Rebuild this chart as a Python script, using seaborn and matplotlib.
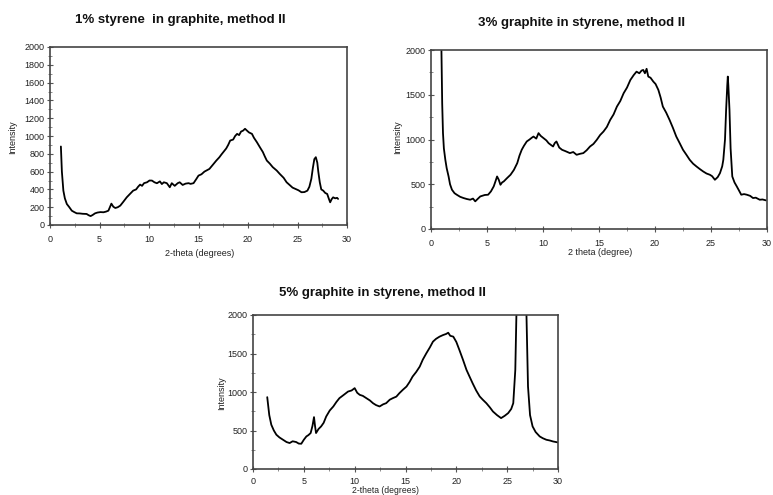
import matplotlib
matplotlib.use("Agg")
import matplotlib.pyplot as plt
import seaborn as sns
import pandas as pd
from matplotlib.ticker import MultipleLocator

# ---- data: (2-theta, intensity) ----
pts1 = [(1.1, 882), (1.2, 600), (1.35, 386), (1.5, 300), (1.7, 236), (1.95, 200), (2.2, 161),
        (2.45, 145), (2.7, 131), (3.0, 130), (3.3, 126), (3.7, 124), (3.9, 110), (4.1, 100),
        (4.3, 112), (4.55, 131), (4.8, 140), (5.1, 145), (5.4, 143), (5.65, 150), (5.9, 161),
        (6.05, 200), (6.2, 240), (6.4, 205), (6.6, 191), (6.85, 200), (7.1, 218), (7.4, 260),
        (7.75, 311), (8.0, 340), (8.4, 386), (8.7, 400), (8.9, 430), (9.1, 454), (9.3, 440),
        (9.5, 470), (9.8, 480), (10.05, 500), (10.3, 499), (10.55, 480), (10.8, 469), (11.1, 490),
        (11.3, 460), (11.5, 480), (11.8, 470), (12.1, 424), (12.3, 470), (12.6, 440), (12.9, 470),
        (13.1, 480), (13.4, 450), (13.7, 465), (14.0, 470), (14.2, 462), (14.5, 470), (14.8, 520),
        (15.0, 555), (15.3, 570), (15.6, 600), (15.8, 612), (16.1, 630), (16.4, 670), (16.8, 724),
        (17.1, 760), (17.3, 790), (17.5, 818), (17.8, 860), (18.0, 900), (18.2, 949), (18.5, 960),
        (18.7, 1000), (18.9, 1024), (19.1, 1010), (19.3, 1050), (19.5, 1060), (19.7, 1081),
        (19.9, 1060), (20.1, 1040), (20.4, 1024), (20.6, 980), (20.9, 930), (21.2, 874),
        (21.5, 820), (21.7, 770), (21.9, 724), (22.2, 690), (22.5, 650), (22.9, 612), (23.2, 575),
        (23.6, 530), (23.9, 480), (24.2, 450), (24.5, 420), (24.8, 405), (25.1, 390), (25.4, 368),
        (25.7, 370), (26.0, 386), (26.2, 430), (26.4, 520), (26.55, 640), (26.7, 740),
        (26.85, 762), (27.0, 700), (27.1, 600), (27.25, 480), (27.4, 400), (27.6, 386),
        (27.8, 360), (28.0, 349), (28.15, 300), (28.3, 255), (28.45, 290), (28.6, 311),
        (28.8, 300), (29.0, 305), (29.1, 293)]

pts2 = [(0.92, 2100), (1.0, 1400), (1.07, 1071), (1.15, 900), (1.28, 773), (1.4, 680),
        (1.57, 587), (1.7, 500), (1.87, 439), (2.1, 400), (2.3, 383), (2.6, 360), (2.9, 346),
        (3.2, 335), (3.5, 327), (3.75, 340), (3.95, 309), (4.2, 340), (4.4, 364), (4.8, 380),
        (5.1, 383), (5.35, 420), (5.6, 476), (5.75, 530), (5.9, 587), (6.05, 550), (6.2, 494),
        (6.35, 520), (6.5, 532), (6.8, 570), (7.1, 606), (7.4, 660), (7.7, 736), (7.9, 820),
        (8.1, 885), (8.3, 930), (8.55, 978), (8.8, 1000), (9.0, 1020), (9.15, 1033), (9.4, 1010),
        (9.6, 1071), (9.8, 1040), (10.05, 1015), (10.3, 990), (10.5, 959), (10.7, 940),
        (10.9, 922), (11.05, 960), (11.2, 978), (11.45, 910), (11.7, 885), (12.0, 870),
        (12.4, 848), (12.7, 860), (13.0, 829), (13.3, 840), (13.6, 848), (13.9, 880), (14.2, 922),
        (14.5, 950), (14.8, 996), (15.1, 1050), (15.4, 1089), (15.7, 1140), (16.0, 1219),
        (16.3, 1280), (16.6, 1368), (16.9, 1430), (17.2, 1517), (17.5, 1580), (17.8, 1665),
        (18.1, 1720), (18.35, 1758), (18.6, 1740), (18.8, 1770), (18.95, 1777), (19.1, 1740),
        (19.25, 1790), (19.4, 1703), (19.6, 1690), (19.85, 1647), (20.05, 1620), (20.3, 1554),
        (20.5, 1470), (20.7, 1368), (21.0, 1300), (21.3, 1219), (21.6, 1130), (21.9, 1033),
        (22.2, 960), (22.5, 885), (22.8, 830), (23.1, 773), (23.4, 730), (23.7, 699), (24.0, 670),
        (24.3, 643), (24.6, 620), (24.9, 606), (25.1, 590), (25.35, 550), (25.6, 580),
        (25.8, 624), (26.0, 700), (26.1, 773), (26.25, 1000), (26.35, 1331), (26.45, 1600),
        (26.5, 1703), (26.55, 1600), (26.65, 1331), (26.75, 900), (26.9, 587), (27.1, 520),
        (27.3, 476), (27.5, 430), (27.7, 383), (27.95, 390), (28.2, 383), (28.5, 370),
        (28.75, 346), (29.0, 350), (29.35, 327), (29.6, 330), (29.9, 320)]

pts3 = [(1.4, 933), (1.6, 700), (1.8, 575), (2.05, 500), (2.3, 445), (2.6, 410), (2.95, 380),
        (3.3, 350), (3.6, 337), (3.9, 360), (4.25, 350), (4.5, 330), (4.75, 328), (5.0, 380),
        (5.25, 423), (5.45, 440), (5.67, 467), (5.85, 560), (6.0, 674), (6.1, 560), (6.2, 467),
        (6.45, 520), (6.7, 553), (6.95, 600), (7.2, 682), (7.55, 760), (7.9, 812), (8.2, 870),
        (8.5, 920), (8.9, 960), (9.35, 1006), (9.7, 1020), (10.0, 1050), (10.25, 990),
        (10.5, 963), (10.8, 950), (11.15, 920), (11.5, 890), (11.8, 855), (12.1, 830),
        (12.45, 812), (12.8, 840), (13.1, 855), (13.45, 900), (13.75, 920), (14.1, 940),
        (14.4, 985), (14.75, 1030), (15.1, 1071), (15.4, 1130), (15.7, 1201), (16.05, 1260),
        (16.4, 1330), (16.7, 1420), (17.05, 1503), (17.4, 1580), (17.7, 1654), (18.0, 1690),
        (18.35, 1719), (18.7, 1740), (19.0, 1754), (19.2, 1770), (19.4, 1730), (19.7, 1719),
        (20.0, 1650), (20.3, 1546), (20.65, 1420), (21.0, 1287), (21.3, 1200), (21.6, 1114),
        (21.95, 1020), (22.3, 942), (22.6, 900), (22.95, 855), (23.3, 800), (23.6, 747),
        (24.0, 700), (24.4, 661), (24.75, 690), (25.1, 726), (25.4, 780), (25.6, 855),
        (25.8, 1287), (26.0, 2600), (26.3, 2600), (26.6, 2600), (26.8, 2600), (27.05, 1071),
        (27.25, 700), (27.5, 553), (27.8, 480), (28.2, 423), (28.5, 400), (28.85, 380),
        (29.2, 370), (29.5, 358), (30.0, 345)]

x1, y1 = zip(*pts1)
x2, y2 = zip(*pts2)
x3, y3 = zip(*pts3)

titles = ["1% styrene  in graphite, method II",
          "3% graphite in styrene, method II",
          "5% graphite in styrene, method II"]
xlabels = ["2-theta (degrees)", "2 theta (degree)", "2-theta (degrees)"]
ylabel = "Intensity"

sns.set_theme(style="white")
plt.rcParams["font.family"] = ["Liberation Sans", "DejaVu Sans"]

fig = plt.figure(figsize=(7.73, 4.95), dpi=100)
W, H = 773.0, 495.0

def axrect(l, t, r, b):
    return [l / W, 1 - b / H, (r - l) / W, (b - t) / H]

ax1 = fig.add_axes(axrect(50, 47, 347, 225))
ax2 = fig.add_axes(axrect(431, 50, 767, 229))
ax3 = fig.add_axes(axrect(253, 315, 558, 469))

datasets = [(ax1, x1, y1), (ax2, x2, y2), (ax3, x3, y3)]
for ax, xs, ys in datasets:
    df = pd.DataFrame({"x": list(xs), "y": list(ys)})
    sns.lineplot(data=df, x="x", y="y", ax=ax, color="black", linewidth=1.3,
                 estimator=None, sort=False)
    ax.set_xlim(0, 30)
    ax.set_ylim(0, 2000)
    ax.set_xlabel("")
    ax.set_ylabel("")
    ax.xaxis.set_major_locator(MultipleLocator(5))
    ax.xaxis.set_minor_locator(MultipleLocator(2.5))
    for s in ax.spines.values():
        s.set_color("#444444")
        s.set_linewidth(1.2)
    ax.tick_params(axis="both", which="major", direction="inout", length=4, width=0.8,
                   color="#555555", labelsize=6.5, labelcolor="#222222", pad=2)
    ax.tick_params(axis="both", which="minor", direction="inout", length=3, width=0.6,
                   color="#777777")
    ax.tick_params(axis="x", which="major", pad=5)
    ax.tick_params(left=True, bottom=True, which="both")
    ax.grid(False)

ax3.tick_params(axis="x", which="major", pad=4)

ax1.yaxis.set_major_locator(MultipleLocator(200))
ax1.yaxis.set_minor_locator(MultipleLocator(100))
for ax in (ax2, ax3):
    ax.yaxis.set_major_locator(MultipleLocator(500))
    ax.yaxis.set_minor_locator(MultipleLocator(250))

# titles
fig.text(180 / W, 1 - 20 / H, titles[0], ha="center", va="center", fontsize=9.5,
         fontweight="bold", color="#111111")
fig.text(582 / W, 1 - 23 / H, titles[1], ha="center", va="center", fontsize=9.5,
         fontweight="bold", color="#111111")
fig.text(382 / W, 1 - 293 / H, titles[2], ha="center", va="center", fontsize=9.5,
         fontweight="bold", color="#111111")

# x labels
fig.text(200 / W, 1 - 253 / H, xlabels[0], ha="center", va="center", fontsize=6.5, color="#222222")
fig.text(600 / W, 1 - 252.5 / H, xlabels[1], ha="center", va="center", fontsize=6.5, color="#222222")
fig.text(385 / W, 1 - 490.5 / H, xlabels[2], ha="center", va="center", fontsize=6.2, color="#222222")

# y labels
fig.text(13 / W, 1 - 137 / H, ylabel, ha="center", va="center", rotation=90, fontsize=6.5, color="#222222")
fig.text(398 / W, 1 - 137 / H, ylabel, ha="center", va="center", rotation=90, fontsize=6.5, color="#222222")
fig.text(222 / W, 1 - 393 / H, ylabel, ha="center", va="center", rotation=90, fontsize=6.5, color="#222222")

fig.savefig("out.png", dpi=100, facecolor="white")
